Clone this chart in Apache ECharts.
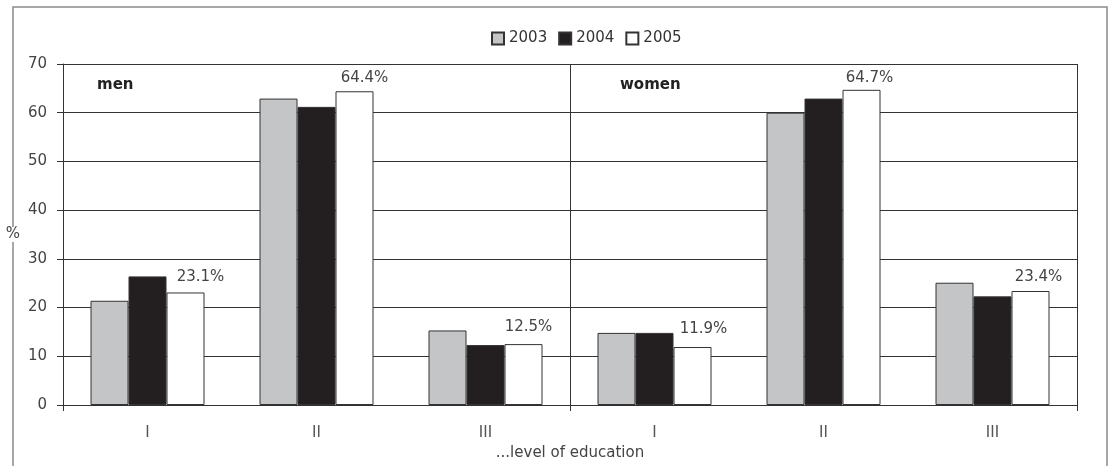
<!DOCTYPE html>
<html>
<head>
<meta charset="utf-8">
<script src="https://cdn.jsdelivr.net/npm/echarts@6/dist/echarts.min.js"></script>
<style>
  html, body { margin: 0; padding: 0; background: #fff; }
  #chart { width: 1109px; height: 466px; }
</style>
</head>
<body>
<div id="chart"></div>
<script>
// Education level categories, repeated for the men and women panels
const categories = ['I', 'II', 'III', 'I', 'II', 'III'];
const groups = ['men', 'women'];
const years = ['2003', '2004', '2005'];

// Share (%) by level of education: men I-III, then women I-III
const values2003 = [21.4, 62.9, 15.3, 14.8, 60.0, 25.1];
const values2004 = [26.4, 61.2, 12.3, 14.8, 62.9, 22.3];
const values2005 = [23.1, 64.4, 12.5, 11.9, 64.7, 23.4];

const yTicks = { min: 0, max: 70, interval: 10 };

const FONT = 'DejaVu Sans';
const TEXT = '#444';
const LINE = '#333';

const fills = ['#c4c5c7', '#231f20', '#ffffff'];
const seriesValues = [values2003, values2004, values2005];

// nudges for the 2005 value labels so they sit up and to the right of each bar
const labelOffsets = [[15, -3], [10, -1], [5, -4], [11, -5], [8, 1], [8, -1]];

const chart = echarts.init(document.getElementById('chart'), null, { renderer: 'canvas' });

const series = years.map((y, i) => ({
  name: y,
  type: 'bar',
  xAxisIndex: 0,
  data: i === 2
    ? seriesValues[i].map((v, k) => ({ value: v, label: { offset: labelOffsets[k] } }))
    : seriesValues[i],
  barWidth: 38,
  barGap: '0%',
  itemStyle: { color: fills[i], borderColor: LINE, borderWidth: 1 },
  label: i === 2 ? {
    show: true,
    position: 'top',
    formatter: p => p.value.toFixed(1) + '%',
    fontFamily: FONT,
    fontSize: 15,
    color: TEXT
  } : { show: false },
  emphasis: { disabled: true },
  animation: false
}));

chart.setOption({
  animation: false,
  legend: {
    data: years,
    left: 486,
    top: 26,
    itemWidth: 12,
    itemHeight: 12,
    itemGap: 11,
    textStyle: { fontFamily: FONT, fontSize: 15, color: '#333' },
    icon: 'rect'
  },
  grid: { left: 63, top: 64, right: 32, bottom: 61 },
  xAxis: [
    {
      type: 'category',
      data: categories,
      position: 'bottom',
      axisLine: { show: true, lineStyle: { color: LINE, width: 1 } },
      axisTick: { show: false },
      axisLabel: { fontFamily: FONT, fontSize: 15, color: '#555', margin: 21 },
      splitLine: { show: false },
      name: '...level of education',
      nameLocation: 'middle',
      nameGap: 41,
      nameTextStyle: { fontFamily: FONT, fontSize: 15, color: TEXT }
    },
    {
      type: 'category',
      data: groups,
      position: 'bottom',
      axisLine: { show: false },
      axisTick: { show: true, length: 6, lineStyle: { color: LINE, width: 1 } },
      axisLabel: { show: false },
      splitLine: { show: true, lineStyle: { color: LINE, width: 1 } }
    }
  ],
  yAxis: {
    type: 'value',
    min: yTicks.min,
    max: yTicks.max,
    interval: yTicks.interval,
    axisLine: { show: true, lineStyle: { color: LINE, width: 1 } },
    axisTick: { show: true, length: 6, lineStyle: { color: LINE } },
    axisLabel: { fontFamily: FONT, fontSize: 15, color: TEXT, margin: 16 },
    splitLine: { show: true, lineStyle: { color: LINE, width: 1 } },
    name: '%',
    nameLocation: 'middle',
    nameRotate: 0,
    nameGap: 43,
    nameTextStyle: { fontFamily: FONT, fontSize: 15, color: TEXT, backgroundColor: '#fff' }
  },
  graphic: [
    {
      type: 'rect',
      z: -10,
      shape: { x: 13, y: 7, width: 1094, height: 480 },
      style: { fill: 'none', stroke: '#8a8a8a', lineWidth: 1.5 },
      silent: true
    },
    {
      type: 'text',
      left: 97,
      top: 78,
      style: { text: 'men', fontFamily: FONT, fontSize: 15, fontWeight: 600, fill: '#222' }
    },
    {
      type: 'text',
      left: 620,
      top: 78,
      style: { text: 'women', fontFamily: FONT, fontSize: 15, fontWeight: 600, fill: '#222' }
    }
  ],
  series: series
});
</script>
</body>
</html>
